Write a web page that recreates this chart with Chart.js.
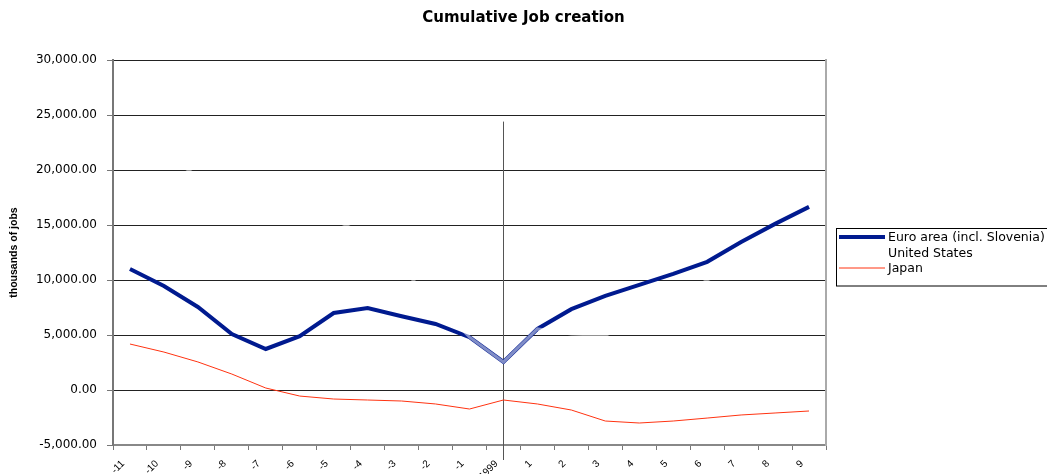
<!DOCTYPE html>
<html>
<head>
<meta charset="utf-8">
<title>Cumulative Job creation</title>
<script src="https://cdn.jsdelivr.net/npm/chart.js@4"></script>
<style>
  body { margin: 0; background: #fff; }
  #wrap { width: 1047px; height: 474px; position: relative; }
</style>
</head>
<body>
<div id="wrap"><canvas id="jobs"></canvas></div>
<script>
"use strict";

// years relative to 1999
var years = ["-11", "-10", "-9", "-8", "-7", "-6", "-5", "-4", "-3", "-2", "-1",
    "1999", "1", "2", "3", "4", "5", "6", "7", "8", "9"];

// thousands of jobs, cumulative
var euroArea = [11000, 9450, 7550, 5090, 3730, 4900, 7000, 7450, 6700, 6000, 4800,
    2550, 5550, 7350, 8550, 9550, 10550, 11650, 13450, 15100, 16650];
var unitedStates = [23500, 21500, 19400, 18400, 17400, 16400, 15500, 14000, 11000, 8000, 4800,
    2550, 5550, 5100, 4950, 6500, 8100, 10000, 11400, 12400, 13400];
var japan = [4180, 3450, 2550, 1450, 180, -550, -820, -910, -1000, -1270, -1730,
    -910, -1270, -1820, -2820, -3000, -2820, -2550, -2270, -2090, -1910];

var yTicks = { min: -5000, max: 30000, step: 5000 };
var markerYear = "1999";
var markerTop = 24400;

var FONT = "'DejaVu Sans', Verdana, sans-serif";
var FONT_NARROW = "Arial, 'Liberation Sans', sans-serif";

function fmt(v) {
    return v.toLocaleString("en-US", { minimumFractionDigits: 2, maximumFractionDigits: 2 });
}

// vertical marker line at 1999
var markerPlugin = {
    id: "marker",
    beforeDatasetsDraw: function (chart) {
        var ctx = chart.ctx, area = chart.chartArea;
        var x = Math.round(chart.scales.x.getPixelForValue(years.indexOf(markerYear))) + 0.5;
        var top = chart.scales.y.getPixelForValue(markerTop);
        ctx.save();
        ctx.strokeStyle = "#555";
        ctx.lineWidth = 1;
        ctx.beginPath();
        ctx.moveTo(x, top);
        ctx.lineTo(x, area.bottom + 15);
        ctx.stroke();
        ctx.restore();
    }
};

// boxed legend at the right, running off the canvas edge
var legendPlugin = {
    id: "boxLegend",
    afterDraw: function (chart) {
        var ctx = chart.ctx;
        var left = 836, top = 228, rowH = 15.5;
        var sets = chart.data.datasets;
        ctx.save();
        ctx.strokeStyle = "#000";
        ctx.lineWidth = 1;
        ctx.strokeRect(left + 0.5, top + 0.5, 300, rowH * sets.length + 11);
        ctx.font = "12.5px " + FONT;
        ctx.textBaseline = "middle";
        sets.forEach(function (ds, i) {
            var y = top + 9 + i * rowH;
            ctx.strokeStyle = ds.borderColor;
            ctx.lineWidth = ds.borderWidth;
            ctx.beginPath();
            ctx.moveTo(left + 3, y);
            ctx.lineTo(left + 49, y);
            ctx.stroke();
            ctx.fillStyle = "#000";
            ctx.fillText(ds.label, left + 52, y + 1);
        });
        ctx.restore();
    }
};

new Chart(document.getElementById("jobs"), {
    type: "line",
    data: {
        labels: years,
        datasets: [{
            label: "Euro area (incl. Slovenia)",
            data: euroArea,
            borderColor: "#001a8f",
            borderWidth: 4,
            pointRadius: 0,
            tension: 0,
            order: 1
        }, {
            label: "United States",
            data: unitedStates,
            borderColor: "rgba(255,255,255,0.5)",
            borderWidth: 3,
            pointRadius: 0,
            tension: 0,
            order: 0
        }, {
            label: "Japan",
            data: japan,
            borderColor: "#ff3311",
            borderWidth: 1,
            pointRadius: 0,
            tension: 0,
            order: 2
        }]
    },
    options: {
        responsive: true,
        maintainAspectRatio: false,
        animation: false,
        layout: { padding: 0 },
        plugins: {
            legend: { display: false },
            tooltip: { enabled: false },
            title: {
                display: true,
                text: "Cumulative Job creation",
                color: "#000",
                font: { family: FONT, size: 15, weight: "bold" },
                padding: { top: 9, bottom: 33 }
            }
        },
        scales: {
            x: {
                type: "category",
                offset: true,
                grid: {
                    offset: true,
                    drawOnChartArea: false,
                    drawTicks: true,
                    tickLength: 5,
                    tickColor: "#777"
                },
                border: { color: "#888", width: 2 },
                ticks: {
                    autoSkip: false,
                    minRotation: 45,
                    maxRotation: 45,
                    padding: 8,
                    labelOffset: -7,
                    color: "#000",
                    font: { family: FONT_NARROW, size: 10 }
                },
                afterFit: function (scale) { scale.height = 29; }
            },
            y: {
                min: yTicks.min,
                max: yTicks.max,
                grid: {
                    color: "#222",
                    lineWidth: 1,
                    tickLength: 6,
                    tickColor: "#777"
                },
                border: { color: "#777", width: 2 },
                ticks: {
                    stepSize: yTicks.step,
                    padding: 10,
                    color: "#000",
                    font: { family: FONT, size: 12 },
                    callback: function (v) { return fmt(v); }
                },
                title: {
                    display: true,
                    text: "thousands of jobs",
                    color: "#000",
                    font: { family: FONT_NARROW, size: 10.5, weight: "bold" },
                    padding: { top: 8, bottom: 0 }
                },
                afterFit: function (scale) { scale.width = 113; }
            },
            // empty right-hand axis: frames the plot and leaves room for the legend
            y2: {
                position: "right",
                grid: { display: false, drawTicks: false },
                ticks: { display: false },
                border: { color: "#aaa", width: 2 },
                afterFit: function (scale) { scale.width = 221; }
            }
        }
    },
    plugins: [markerPlugin, legendPlugin]
});
</script>
</body>
</html>
